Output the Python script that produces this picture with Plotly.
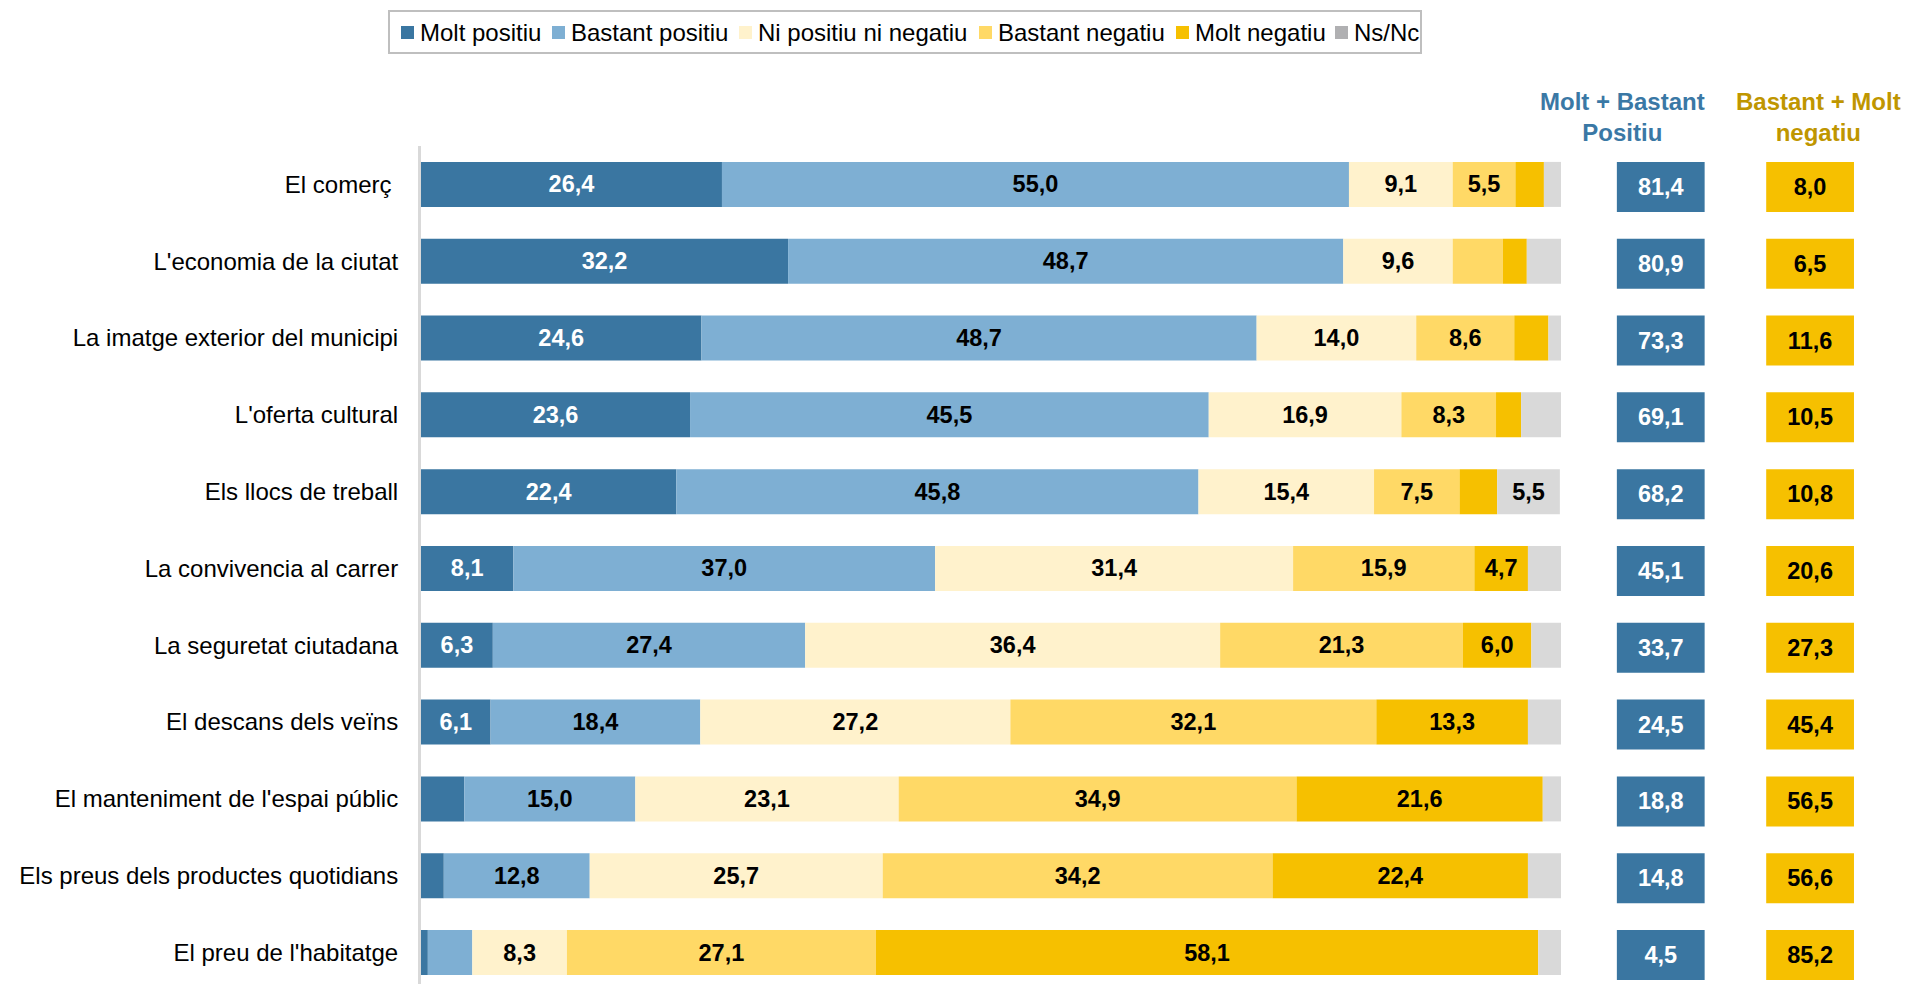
import numpy as np
import plotly.graph_objects as go

# Survey items, top to bottom
categories = [
    "El comerç\u00a0",
    "L'economia de la ciutat",
    "La imatge exterior del municipi",
    "L'oferta cultural",
    "Els llocs de treball",
    "La convivencia al carrer",
    "La seguretat ciutadana",
    "El descans dels veïns",
    "El manteniment de l'espai públic",
    "Els preus dels productes quotidians",
    "El preu de l'habitatge",
]

series_names = ["Molt positiu", "Bastant positiu", "Ni positiu ni negatiu",
                "Bastant negatiu", "Molt negatiu", "Ns/Nc"]

molt_positiu = [26.4, 32.2, 24.6, 23.6, 22.4, 8.1, 6.3, 6.1, 3.8, 2.0, 0.6]
bastant_positiu = [55.0, 48.7, 48.7, 45.5, 45.8, 37.0, 27.4, 18.4, 15.0, 12.8, 3.9]
ni_positiu_ni_negatiu = [9.1, 9.6, 14.0, 16.9, 15.4, 31.4, 36.4, 27.2, 23.1, 25.7, 8.3]
bastant_negatiu = [5.5, 4.4, 8.6, 8.3, 7.5, 15.9, 21.3, 32.1, 34.9, 34.2, 27.1]
molt_negatiu = [2.5, 2.1, 3.0, 2.2, 3.3, 4.7, 6.0, 13.3, 21.6, 22.4, 58.1]
ns_nc = [1.5, 3.0, 1.1, 3.5, 5.5, 2.9, 2.6, 2.9, 1.6, 2.9, 2.0]

total_positiu = [81.4, 80.9, 73.3, 69.1, 68.2, 45.1, 33.7, 24.5, 18.8, 14.8, 4.5]
total_negatiu = [8.0, 6.5, 11.6, 10.5, 10.8, 20.6, 27.3, 45.4, 56.5, 56.6, 85.2]

series_values = [molt_positiu, bastant_positiu, ni_positiu_ni_negatiu,
                 bastant_negatiu, molt_negatiu, ns_nc]
series_colors = ["#3a76a1", "#7eafd3", "#fff2cc", "#ffd966", "#f6c000", "#d9d9d9"]
legend_colors = ["#3a76a1", "#7eafd3", "#fff2cc", "#ffd966", "#f6c000", "#b0b0b2"]
text_colors = ["#ffffff", "#000000", "#000000", "#000000", "#000000", "#000000"]

FONT = "Liberation Sans, Arial, sans-serif"
LABEL_MIN = 4.5          # segments narrower than this carry no label
BAR_WIDTH = 0.586
BOX_LEN = 7.7            # summary boxes, in axis units
BOX_POS_START = 104.9
BOX_NEG_START = 118.0
BOX_WIDTH = 0.651
BOX_OFFSET = -0.293
VALUE_FONT_SIZE = 23.5


def fmt(v):
    return f"{v:.1f}".replace(".", ",")


fig = go.Figure()

y_idx = np.arange(len(categories))
bases = np.cumsum([np.zeros(len(categories))] + [np.array(s) for s in series_values[:-1]], axis=0)

for name, vals, base, col, tcol in zip(series_names, series_values, bases, series_colors, text_colors):
    vals = np.array(vals)
    fig.add_trace(go.Bar(
        y=y_idx, x=vals, base=base, orientation="h", name=name,
        width=BAR_WIDTH,
        marker=dict(color=col, line=dict(width=0)),
        text=[fmt(v) if v >= LABEL_MIN else "" for v in vals],
        textposition="inside", insidetextanchor="middle", textangle=0,
        constraintext="none",
        textfont=dict(family=FONT, size=VALUE_FONT_SIZE, color=tcol, weight="bold"),
        showlegend=False, hoverinfo="skip",
    ))

# Summary boxes: positive and negative totals
for vals, start, col, tcol in [(total_positiu, BOX_POS_START, "#3a76a1", "#ffffff"),
                               (total_negatiu, BOX_NEG_START, "#f6c000", "#000000")]:
    fig.add_trace(go.Bar(
        y=y_idx, x=[BOX_LEN] * len(vals), base=start, orientation="h",
        width=BOX_WIDTH, offset=BOX_OFFSET,
        marker=dict(color=col, line=dict(width=0)),
        text=[fmt(v) for v in vals],
        textposition="inside", insidetextanchor="middle", textangle=0,
        constraintext="none",
        textfont=dict(family=FONT, size=VALUE_FONT_SIZE, color=tcol, weight="bold"),
        showlegend=False, hoverinfo="skip",
    ))

W, H = 1906, 984
L, T = 421, 146
px_per_unit = 11.4
plot_w = W - L
plot_h = H - T


def px_x(x):
    """Pixel column -> paper x."""
    return (x - L) / plot_w


def px_y(y):
    """Pixel row from the top -> paper y."""
    return 1 + (T - y) / plot_h


fig.update_layout(
    width=W, height=H,
    margin=dict(l=L, r=0, t=T, b=0, pad=0),
    barmode="overlay",
    paper_bgcolor="white", plot_bgcolor="white",
    font=dict(family=FONT, size=24, color="#000000"),
    showlegend=False,
    xaxis=dict(range=[0, plot_w / px_per_unit], visible=False, fixedrange=True),
    yaxis=dict(
        tickmode="array", tickvals=list(y_idx), ticktext=categories,
        range=[10.41, -0.5], showgrid=False, zeroline=False,
        showline=True, linecolor="#d9d9d9", linewidth=3,
        ticks="", ticklabelstandoff=15,
        tickfont=dict(family=FONT, size=24, color="#000000"),
        fixedrange=True,
    ),
)

# Legend box across the top
LEG_LEFT, LEG_RIGHT, LEG_TOP, LEG_BOTTOM = 389, 1421, 11, 53
legend_marker_x = [401, 552, 739, 979, 1176, 1335]
MARK = 13
mark_top = 26
fig.add_shape(type="rect", xref="paper", yref="paper",
              x0=px_x(LEG_LEFT), x1=px_x(LEG_RIGHT), y0=px_y(LEG_BOTTOM), y1=px_y(LEG_TOP),
              line=dict(color="#bfbfbf", width=2), fillcolor="white", layer="above")
for name, col, mx in zip(series_names, legend_colors, legend_marker_x):
    fig.add_shape(type="rect", xref="paper", yref="paper",
                  x0=px_x(mx), x1=px_x(mx + MARK), y0=px_y(mark_top + MARK), y1=px_y(mark_top),
                  line=dict(width=0), fillcolor=col, layer="above")
    fig.add_annotation(x=px_x(mx + 17), y=px_y(32.5), xref="paper", yref="paper",
                       text=name, showarrow=False, xanchor="left", yanchor="middle",
                       font=dict(family=FONT, size=24, color="#000000"))

# Column headers for the summary boxes
hdr_y = px_y(116.5)
fig.add_annotation(x=px_x(1622), y=hdr_y, xref="paper", yref="paper",
                   text="Molt + Bastant<br>Positiu", showarrow=False,
                   xanchor="center", yanchor="middle",
                   font=dict(family=FONT, size=24, color="#3a78a5", weight="bold"))
fig.add_annotation(x=px_x(1818), y=hdr_y, xref="paper", yref="paper",
                   text="Bastant + Molt<br>negatiu", showarrow=False,
                   xanchor="center", yanchor="middle",
                   font=dict(family=FONT, size=24, color="#bf9600", weight="bold"))

fig.write_html("out.html")
